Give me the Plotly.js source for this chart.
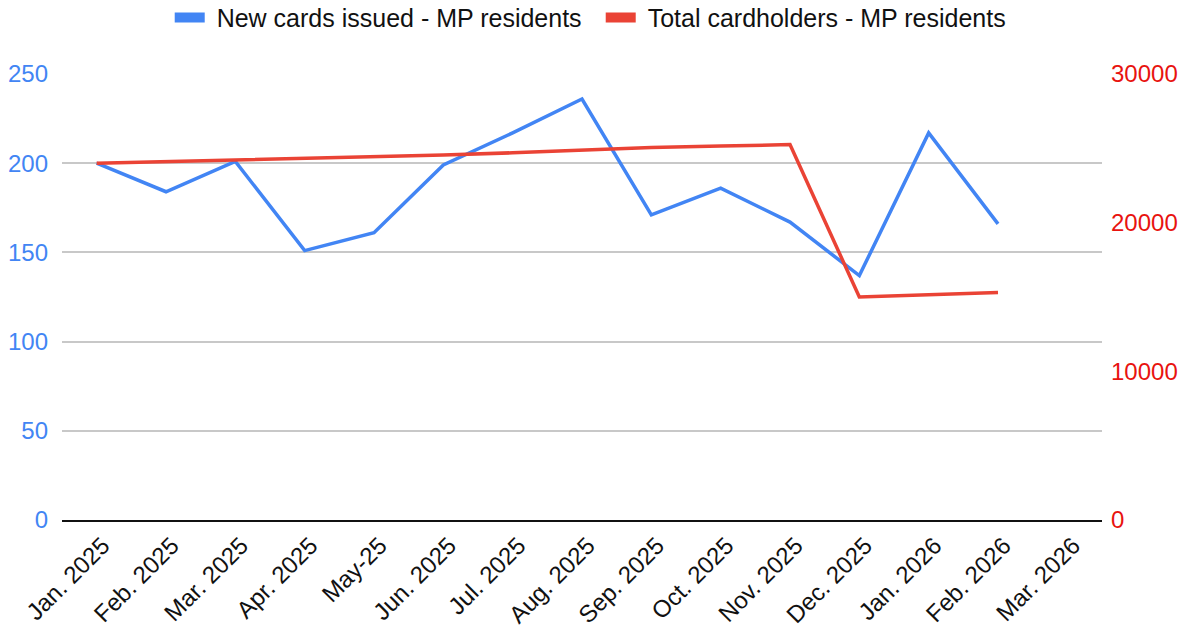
<!DOCTYPE html>
<html>
<head>
<meta charset="utf-8">
<script src="https://cdn.plot.ly/plotly-3.0.1.min.js"></script>
<style>html,body{margin:0;padding:0;background:#fff;}#chart{width:1191px;height:635px;}</style>
</head>
<body>
<div id="chart"></div>
<script>
const months = ["Jan. 2025","Feb. 2025","Mar. 2025","Apr. 2025","May-25","Jun. 2025","Jul. 2025","Aug. 2025","Sep. 2025","Oct. 2025","Nov. 2025","Dec. 2025","Jan. 2026","Feb. 2026","Mar. 2026"];
const newCards = [200,184,201,151,161,199,217,236,171,186,167,137,217,166,null];
const totalCardholders = [24000,24100,24200,24300,24400,24550,24700,24900,25050,25150,25250,15000,15150,15300,null];
const seriesNames = ["New cards issued - MP residents","Total cardholders - MP residents"];
const blue = "#4285F4", red = "#EA4335";
const font = "'Liberation Sans', Arial, sans-serif";
const pad = "\u00a0";

const traces = [
  {x: months, y: newCards, type: "scatter", mode: "lines", name: seriesNames[0],
   line: {color: blue, width: 3.5}, yaxis: "y", showlegend: false},
  {x: months, y: totalCardholders, type: "scatter", mode: "lines", name: seriesNames[1],
   line: {color: red, width: 3.5}, yaxis: "y2", showlegend: false},
  {x: [months[0]], y: [null], type: "scatter", mode: "lines", name: pad + seriesNames[0],
   line: {color: blue, width: 10}, yaxis: "y", showlegend: true},
  {x: [months[0]], y: [null], type: "scatter", mode: "lines", name: pad + seriesNames[1],
   line: {color: red, width: 10}, yaxis: "y2", showlegend: true}
];

const layout = {
  width: 1191, height: 635,
  margin: {l: 62, r: 89, t: 74, b: 115},
  paper_bgcolor: "#fff", plot_bgcolor: "#fff",
  font: {family: font, size: 24, color: "#222"},
  showlegend: true,
  legend: {orientation: "h", x: 0.518, xanchor: "center", yref: "container", y: 0.972, yanchor: "middle",
           font: {family: font, size: 25, color: "#111"}, itemwidth: 30, entrywidth: 386, entrywidthmode: "pixels",
           bgcolor: "rgba(0,0,0,0)"},
  xaxis: {type: "category", categoryorder: "array", categoryarray: months, range: [-0.5, 14.5],
          tickangle: -45, showgrid: false, zeroline: false, showline: true, linecolor: "#111", linewidth: 2,
          ticks: "", ticklabelshift: 6, tickfont: {family: font, size: 24, color: "#111"}, fixedrange: true},
  yaxis: {range: [0, 250], dtick: 50, tick0: 0, showgrid: true, gridcolor: "#c8c8c8", gridwidth: 2,
          zeroline: false, showline: false, ticks: "", ticklabelstandoff: 13,
          tickfont: {family: font, size: 24, color: blue}},
  yaxis2: {range: [0, 30000], dtick: 10000, tick0: 0, tickformat: "d", overlaying: "y", side: "right", showgrid: false,
           zeroline: false, showline: false, ticks: "", ticklabelstandoff: 8,
           tickfont: {family: font, size: 24, color: "#E8130F"}}
};

Plotly.newPlot("chart", traces, layout, {displayModeBar: false, staticPlot: true});
</script>
</body>
</html>
